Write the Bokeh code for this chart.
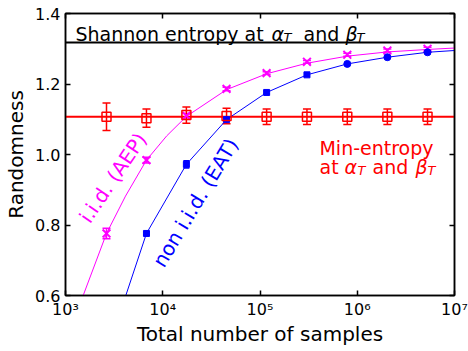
import math
from bokeh.plotting import figure
from bokeh.models import (ColumnDataSource, Whisker, TeeHead, Span, FixedTicker,
                          LogAxis, LinearAxis)
from bokeh.core.properties import value
from bokeh.embed import file_html
from bokeh.resources import INLINE

# ---- data ----
samples = [2640, 6800, 17500, 45300, 117000, 304000, 790000, 2040000, 5280000]

min_entropy = [1.107, 1.103, 1.112, 1.109, 1.107, 1.107, 1.107, 1.107, 1.107]
min_entropy_err = [0.039, 0.026, 0.023, 0.022, 0.022, 0.022, 0.022, 0.022, 0.022]

iid_x = [2640, 6800, 17500, 45300, 117000, 304000, 790000, 2040000, 5280000]
iid_y = [0.776, 0.984, 1.110, 1.186, 1.231, 1.263, 1.283, 1.295, 1.300]
iid_err = [0.015, 0.008, 0.006, 0.005, 0.004, 0.004, 0.004, 0.004, 0.004]

iid_curve_x = [1520, 2640, 4140, 6800, 11000, 17500, 45300, 117000, 304000,
               790000, 2040000, 5280000, 10000000]
iid_curve_y = [0.600, 0.776, 0.882, 0.984, 1.053, 1.108, 1.184, 1.229, 1.259,
               1.279, 1.291, 1.298, 1.302]

eat_sq_x = [6800, 17500, 45300, 117000, 304000]
eat_sq_y = [0.776, 0.972, 1.099, 1.176, 1.226]
eat_ci_x = [790000, 2040000, 5280000]
eat_ci_y = [1.257, 1.276, 1.290]
eat_err_x = [6800, 17500, 45300, 117000, 304000, 790000, 2040000, 5280000]
eat_err = [0.004, 0.010, 0.005, 0.004, 0.004, 0.004, 0.004, 0.004]
eat_line_x = [4170, 6800, 17500, 45300, 117000, 304000, 790000, 2040000, 5280000, 10000000]
eat_line_y = [0.600, 0.776, 0.972, 1.099, 1.176, 1.226, 1.257, 1.276, 1.290, 1.295]

shannon_level = 1.318
min_entropy_level = 1.107

x_ticks = [1000, 10000, 100000, 1000000, 10000000]
x_tick_labels = ["10³", "10⁴", "10⁵", "10⁶", "10⁷"]
y_ticks = [0.6, 0.8, 1.0, 1.2, 1.4]
y_tick_labels = ["0.6", "0.8", "1.0", "1.2", "1.4"]

x_title = "Total number of samples"
y_title = "Randomness"

RED = "#ff0000"
MAG = "#ff00ff"
BLUE = "#0000ff"
FONT = "DejaVu Sans"

p = figure(width=468, height=351, x_axis_type="log",
           x_range=(1e3, 1e7), y_range=(0.6, 1.4),
           output_backend="svg", toolbar_location=None,
           min_border_left=65, min_border_right=14,
           min_border_top=13, min_border_bottom=56)
p.grid.visible = False
p.outline_line_color = "black"
p.outline_line_width = 1.5
p.background_fill_color = "white"

# axes
def style_axis(ax, size):
    ax.axis_line_width = 1.5
    ax.axis_line_color = "black"
    ax.major_tick_in = 5
    ax.major_tick_out = 0
    ax.minor_tick_in = 0
    ax.minor_tick_out = 0
    ax.major_tick_line_width = 1.5
    ax.major_tick_line_color = "black"
    ax.major_label_text_font = FONT
    ax.major_label_text_font_size = size
    ax.major_label_text_color = "black"

def style_title(ax, text, standoff):
    ax.axis_label = text
    ax.axis_label_text_font = FONT
    ax.axis_label_text_font_size = "20px"
    ax.axis_label_text_font_style = "normal"
    ax.axis_label_text_color = "black"
    ax.axis_label_standoff = standoff

xa = p.xaxis[0]
xa.ticker = FixedTicker(ticks=x_ticks)
xa.major_label_overrides = {t: l for t, l in zip(x_ticks, x_tick_labels)}
style_axis(xa, "16px")
xa.major_label_standoff = 4
style_title(xa, x_title, 0)

ya = p.yaxis[0]
ya.ticker = FixedTicker(ticks=y_ticks)
ya.major_label_overrides = {t: l for t, l in zip(y_ticks, y_tick_labels)}
style_axis(ya, "16px")
ya.major_label_standoff = 5
style_title(ya, y_title, 4)

top = LogAxis(ticker=FixedTicker(ticks=x_ticks))
style_axis(top, "1px")
top.major_label_text_alpha = 0
top.major_label_standoff = 0
p.add_layout(top, "above")
right = LinearAxis(ticker=FixedTicker(ticks=y_ticks))
style_axis(right, "1px")
right.major_label_text_alpha = 0
right.major_label_standoff = 0
p.add_layout(right, "right")

# reference lines
p.add_layout(Span(location=shannon_level, dimension="width", line_color="black",
                  line_width=2, level="underlay"))
p.add_layout(Span(location=min_entropy_level, dimension="width", line_color=RED,
                  line_width=2, level="underlay"))

# i.i.d. (AEP) curve and points
p.line(iid_curve_x, iid_curve_y, line_color=MAG, line_width=1)
iid_src = ColumnDataSource(dict(x=iid_x, y=iid_y,
                                lo=[v - e for v, e in zip(iid_y, iid_err)],
                                up=[v + e for v, e in zip(iid_y, iid_err)]))
p.add_layout(Whisker(source=iid_src, base="x", lower="lo", upper="up",
                     line_color=MAG, line_width=1.5,
                     lower_head=TeeHead(size=8, line_color=MAG, line_width=1.5),
                     upper_head=TeeHead(size=8, line_color=MAG, line_width=1.5)))
p.scatter("x", "y", source=iid_src, marker="x", size=11, line_color=MAG, line_width=2)

# non i.i.d. (EAT)
p.line(eat_line_x, eat_line_y, line_color=BLUE, line_width=1)
eat_y_all = eat_sq_y + eat_ci_y
eat_src = ColumnDataSource(dict(x=eat_err_x, y=eat_y_all,
                                lo=[v - e for v, e in zip(eat_y_all, eat_err)],
                                up=[v + e for v, e in zip(eat_y_all, eat_err)]))
p.add_layout(Whisker(source=eat_src, base="x", lower="lo", upper="up",
                     line_color=BLUE, line_width=1.5,
                     lower_head=TeeHead(size=6, line_color=BLUE, line_width=1.5),
                     upper_head=TeeHead(size=6, line_color=BLUE, line_width=1.5)))
p.scatter(eat_sq_x, eat_sq_y, marker="square", size=6, color=BLUE)
p.scatter(eat_ci_x, eat_ci_y, marker="circle", size=7, color=BLUE)

# min-entropy points
me_src = ColumnDataSource(dict(x=samples, y=min_entropy,
                               lo=[v - e for v, e in zip(min_entropy, min_entropy_err)],
                               up=[v + e for v, e in zip(min_entropy, min_entropy_err)]))
p.add_layout(Whisker(source=me_src, base="x", lower="lo", upper="up",
                     line_color=RED, line_width=1.5,
                     lower_head=TeeHead(size=8, line_color=RED, line_width=1.5),
                     upper_head=TeeHead(size=8, line_color=RED, line_width=1.5)))
p.scatter("x", "y", source=me_src, marker="square", size=9, fill_color=None,
          line_color=RED, line_width=1.5)

# ---- texts ----
def txt(x, y, s, color, size, xo=0, yo=0, style="normal", align="left",
        baseline="alphabetic", angle=0.0):
    p.text(x=[x], y=[y], text=[s], text_color=color, text_font=value(FONT),
           text_font_size=size, text_font_style=style, text_align=align,
           text_baseline=baseline, x_offset=xo, y_offset=yo, angle=angle)

# Shannon entropy label (anchored at top-left corner of frame)
X0, YT = 1e3, 1.4
txt(X0, YT, "Shannon entropy at", "black", "19px", xo=10, yo=20)
txt(X0, YT, "α", "black", "19px", xo=206, yo=20, style="italic")
txt(X0, YT, "T", "black", "13px", xo=218, yo=23.5, style="italic")
txt(X0, YT, "and", "black", "19px", xo=238, yo=20)
txt(X0, YT, "β", "black", "19px", xo=280, yo=20, style="italic")
txt(X0, YT, "T", "black", "13px", xo=291, yo=23.5, style="italic")

# Min-entropy label (anchored at frame left on the min-entropy level)
YM = min_entropy_level
txt(X0, YM, "Min-entropy", RED, "19px", xo=311, yo=31, align="center")
txt(X0, YM, "at", RED, "19px", xo=254, yo=50)
txt(X0, YM, "α", RED, "19px", xo=279, yo=50, style="italic")
txt(X0, YM, "T", RED, "13px", xo=292, yo=53.5, style="italic")
txt(X0, YM, "and", RED, "19px", xo=307, yo=50)
txt(X0, YM, "β", RED, "19px", xo=350, yo=50, style="italic")
txt(X0, YM, "T", RED, "13px", xo=362, yo=53.5, style="italic")

# rotated curve labels
txt(3080, 0.934, "i.i.d. (AEP)", MAG, "20px", align="center", baseline="middle",
    angle=math.radians(56))
txt(21700, 0.863, "non i.i.d. (EAT)", BLUE, "20px", align="center", baseline="middle",
    angle=math.radians(59))

open("out.html", "w").write(file_html(p, INLINE))
